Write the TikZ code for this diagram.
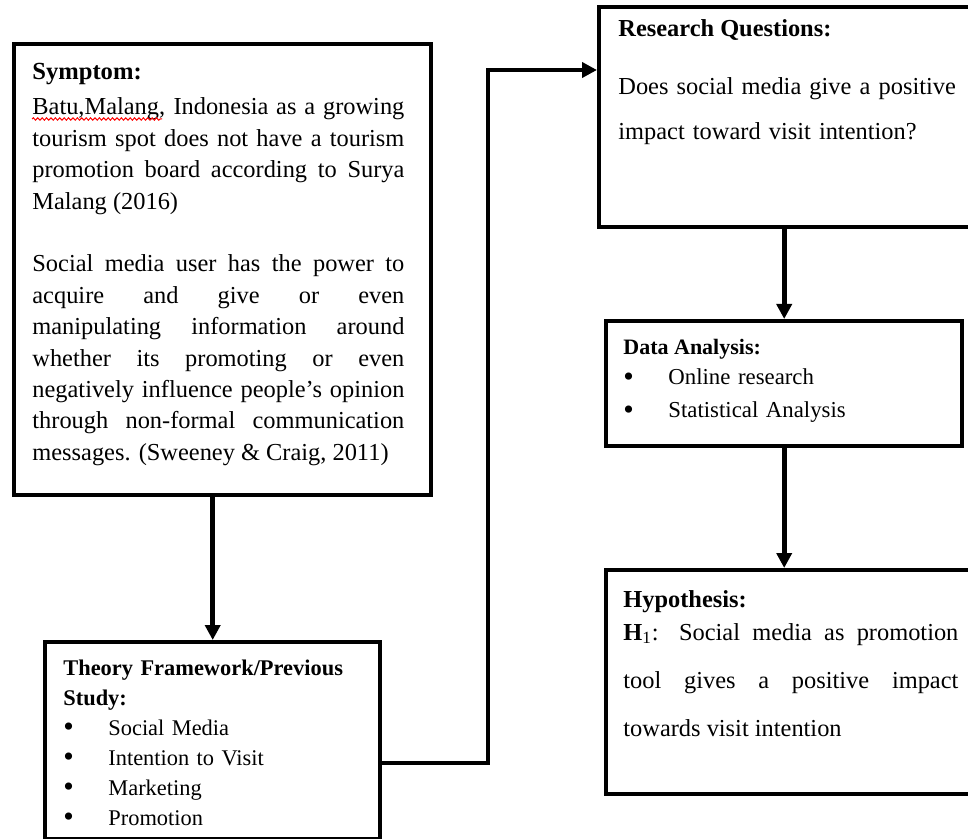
\documentclass[tikz,border=0pt]{standalone}
\usepackage{fontspec}
\setmainfont{Liberation Serif}
\usetikzlibrary{arrows.meta,calc,positioning,decorations.pathmorphing}

\tikzset{
  box/.style={draw, line width=2.2pt, inner sep=0pt, anchor=north west},
  txt/.style={anchor=base west, inner sep=0pt, align=justify},
  flow/.style={line width=2.4pt, -{Triangle[length=7.5pt,width=7.5pt]}},
  spell/.style={red, line width=0.5pt, decorate,
    decoration={snake, amplitude=0.6pt, segment length=2.2pt}}
}
\newcommand{\itm}[1]{\makebox[22.5pt][l]{\raisebox{-0.6pt}{\fontsize{15}{15}\selectfont\textbullet}}#1}
\newcommand{\nohyph}{\sloppy\hyphenpenalty=10000\relax}

\begin{document}
\begin{tikzpicture}[x=0.5pt,y=-0.5pt]
\path[use as bounding box, fill=white] (0,0) rectangle (968,839);

% boxes
\node[box, minimum width=208.5pt, minimum height=225.5pt] (sym) at (12,42) {};
\node[box, minimum width=167.5pt, minimum height=98.5pt] (theory) at (43,640) {};
\node[box, minimum width=188pt, minimum height=110pt] (rq) at (597,5) {};
\node[box, minimum width=178pt, minimum height=62.5pt] (data) at (604,319) {};
\node[box, minimum width=186pt, minimum height=112pt] (hyp) at (604,568) {};

% symptom
\node[txt, font=\fontsize{12.3}{15}\selectfont\bfseries] (symhead) at (32,80) {Symptom:};
\node[txt, text width=186pt, font=\fontsize{12.2}{15.7}\selectfont] (symtext) at (32,115)
  {\nohyph Batu,Malang, Indonesia as a growing\linebreak
   tourism spot does not have a tourism\linebreak
   promotion board according to Surya\linebreak
   Malang (2016)\\[15.7pt]
   Social media user has the power to\linebreak
   acquire and give or even\linebreak
   manipulating information around\linebreak
   whether its promoting or even\linebreak
   negatively influence people’s opinion\linebreak
   through non-formal communication\linebreak
   messages. (Sweeney \& Craig, 2011)};
\draw[spell] ([yshift=-2pt]symtext.base west) -- ++(130,0);

% theory
\node[txt, text width=155pt, align=left, font=\fontsize{11.2}{15}\selectfont] (theorytext) at (63,675)
  {\textbf{Theory Framework/Previous}\\\textbf{Study:}\\
   \itm{Social Media}\\\itm{Intention to Visit}\\\itm{Marketing}\\\itm{Promotion}};

% research questions
\node[txt, font=\fontsize{12.2}{15}\selectfont\bfseries] (rqhead) at (618,37) {Research Questions:};
\node[txt, text width=178pt, align=left, font=\fontsize{12.2}{22.5}\selectfont] (rqtext) at (618,95)
  {Does social media give a positive\\impact toward visit intention?};

% data analysis
\node[txt, font=\fontsize{11}{15}\selectfont\bfseries] (datahead) at (623,355) {Data Analysis:};
\node[txt, text width=160pt, align=left, font=\fontsize{11.4}{16.5}\selectfont] (datatext) at (623,385)
  {\itm{Online research}\\\itm{Statistical Analysis}};

% hypothesis
\node[txt, font=\fontsize{12.2}{15}\selectfont\bfseries] (hyphead) at (623,607) {Hypothesis:};
\node[txt, text width=167.5pt, font=\fontsize{12.2}{24.2}\selectfont] (hyptext) at (623,640)
  {\nohyph\textbf{H}\textsubscript{1}: Social media as promotion\linebreak
   tool gives a positive impact\linebreak
   towards visit intention};

% connectors
\coordinate (turnlow) at (488,763);
\coordinate (turnhigh) at (488,70);
\draw[flow] (theory.north |- sym.south) -- (theory.north);
\draw[flow] (theory.east |- turnlow) -- (turnlow) -- (turnhigh) -- (rq.west |- turnhigh);
\draw[flow] (data.north |- rq.south) -- (data.north);
\draw[flow] (data.south) -- (hyp.north -| data.south);
\end{tikzpicture}
\end{document}
